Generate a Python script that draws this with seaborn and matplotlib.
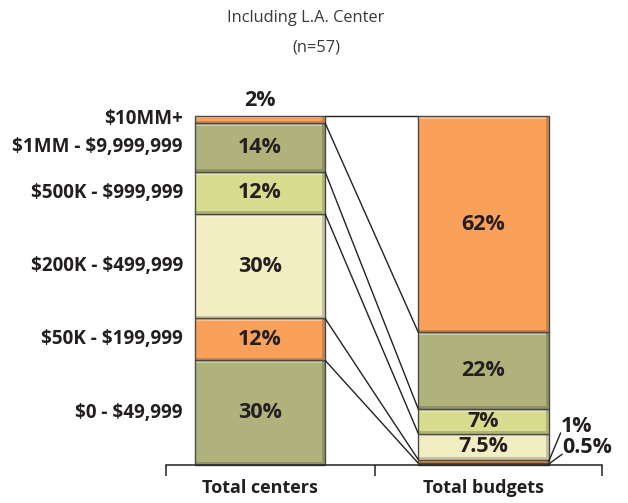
import numpy as np
import pandas as pd
import seaborn as sns
import matplotlib.pyplot as plt
from matplotlib.patches import Rectangle
from matplotlib.colors import to_rgb

brackets = ["$0 - $49,999", "$50K - $199,999", "$200K - $499,999",
            "$500K - $999,999", "$1MM - $9,999,999", "$10MM+"]
groups = ["Total centers", "Total budgets"]
centers_pct = [30, 12, 30, 12, 14, 2]
budgets_pct = [0.5, 1, 7.5, 7, 22, 62]
center_labels = ["30%", "12%", "30%", "12%", "14%", "2%"]
budget_labels = ["0.5%", "1%", "7.5%", "7%", "22%", "62%"]
seg_colors = ["#AFB27A", "#F9A05A", "#F2EDC2", "#D7DC8E", "#AFB27A", "#F9A05A"]

sns.set_theme(style="white")
plt.rcParams['font.family'] = ['Open Sans', 'DejaVu Sans']
plt.rcParams['text.parse_math'] = False

df = pd.DataFrame({
    "pos": [0] * len(brackets) + [1] * len(brackets),
    "bracket": brackets * 2,
    "pct": centers_pct + budgets_pct,
})

fig = plt.figure(figsize=(6.28, 5.03), dpi=100)
ax = fig.add_axes([166 / 628, 38 / 503, 436 / 628, 349 / 503])

bw = 0.583
sns.histplot(data=df, x="pos", weights="pct", hue="bracket",
             hue_order=brackets[::-1], palette=dict(zip(brackets, seg_colors)),
             multiple="stack", discrete=True, shrink=bw, alpha=1,
             edgecolor="none", linewidth=0, legend=False, ax=ax)

ax.set_xlim(-0.42, 1.53)
ax.set_ylim(0, 100)

# bevel look: lighter top, darker right and bottom strips, then outline
dx, dy = 0.013, 0.8
for p in list(ax.patches):
    x, y, w, h = p.get_x(), p.get_y(), p.get_width(), p.get_height()
    if h <= 0:
        continue
    fc = np.array(to_rgb(p.get_facecolor()))
    dark = fc * 0.82
    light = fc + (1 - fc) * 0.35
    s = min(dy, h / 3)
    ax.add_patch(Rectangle((x, y + h - s), w - dx, s, facecolor=light, lw=0))
    ax.add_patch(Rectangle((x + w - dx, y), dx, h, facecolor=dark, lw=0))
    ax.add_patch(Rectangle((x, y), w, s, facecolor=dark, lw=0))
    ax.add_patch(Rectangle((x, y), w, h, facecolor="none",
                           edgecolor="#4a4a4a", lw=1, clip_on=False))

ax.set_xlabel("")
ax.set_ylabel("")
ax.set_yticks([])
for s in ["left", "top", "right"]:
    ax.spines[s].set_visible(False)
ax.spines["bottom"].set_color("#222222")
ax.spines["bottom"].set_linewidth(1.1)

ax.set_xticks([0, 1], groups, fontsize=13, fontweight="bold", color="#231f20")
ax.tick_params(axis="x", which="major", length=0, pad=10)
ax.set_xticks([-0.419, 0.516, 1.529], minor=True)
ax.tick_params(axis="x", which="minor", bottom=True, length=8, width=1.1,
               color="#222222", direction="out")

cum_c = np.concatenate([[0], np.cumsum(centers_pct)])
cum_b = np.concatenate([[0], np.cumsum(budgets_pct)])
mid_c = (cum_c[:-1] + cum_c[1:]) / 2
mid_b = (cum_b[:-1] + cum_b[1:]) / 2

# connecting lines between matching boundaries
for yc, yb in zip(cum_c[1:], cum_b[1:]):
    ax.plot([bw / 2, 1 - bw / 2], [yc, yb], color="#222222", lw=1,
            solid_capstyle="butt", clip_on=False)

txt = dict(fontsize=15.5, fontweight="bold", color="#231f20",
           ha="center", va="center", clip_on=False)
for i, lab in enumerate(center_labels):
    y = mid_c[i] if centers_pct[i] > 5 else 104.3
    ax.text(0, y, lab, **txt)
for i, lab in enumerate(budget_labels):
    if budgets_pct[i] > 5:
        ax.text(1, mid_b[i], lab, **txt)

# small budget shares labelled outside
ax.plot([1 + bw / 2, 1.345], [mid_b[1], 9.2], color="#222222", lw=1, clip_on=False)
ax.plot([1 + bw / 2, 1.352], [mid_b[0], 3.1], color="#222222", lw=1, clip_on=False)
ax.text(1.345, 10.9, budget_labels[1], fontsize=15.5, fontweight="bold",
        color="#231f20", ha="left", va="center", clip_on=False)
ax.text(1.352, 4.9, budget_labels[0], fontsize=15.5, fontweight="bold",
        color="#231f20", ha="left", va="center", clip_on=False)

for i, lab in enumerate(brackets):
    ax.text(-0.345, mid_c[i], lab, fontsize=13.6, fontweight="bold",
            color="#231f20", ha="right", va="center", clip_on=False)

fig.text(306 / 628, 1 - 18 / 503, "Including L.A. Center", fontsize=11.8,
         color="#3a3a3a", ha="center", va="center")
fig.text(316 / 628, 1 - 48 / 503, "(n=57)", fontsize=11.8,
         color="#3a3a3a", ha="center", va="center")

fig.savefig("out.png", dpi=100)
